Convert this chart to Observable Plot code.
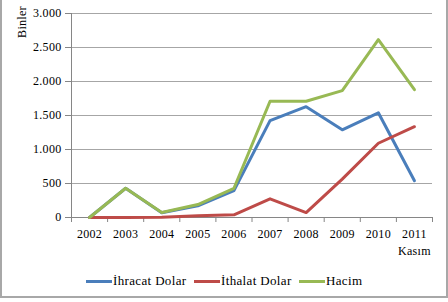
<!DOCTYPE html>
<html>
<head>
<meta charset="utf-8">
<script src="https://cdn.jsdelivr.net/npm/d3@7"></script>
<script src="https://cdn.jsdelivr.net/npm/@observablehq/plot@0.6"></script>
<style>
  html, body { margin: 0; padding: 0; background: #fff; }
  #wrap { position: relative; width: 448px; height: 302px; }
  #wrap, #wrap * { font-family: "Liberation Serif", "Times New Roman", serif !important; }
  #frame { position: absolute; left: 0; top: -2px; width: 444px; height: 298px; border: 2px solid #a8a8a8; border-top: none; box-sizing: content-box; }
  #chart { position: absolute; left: 0; top: 0; }
  #ylabel { position: absolute; left: 22px; top: 22px; transform: translate(-50%, -50%) rotate(-90deg); font-size: 12px; letter-spacing: 0.3px; white-space: nowrap; color: #000; }
  #legend { position: absolute; left: 0; top: 273px; width: 448px; height: 16px; font-size: 13px; letter-spacing: 0.35px; color: #000; }
  .item { position: absolute; top: 0; display: flex; align-items: center; gap: 1px; height: 16px; white-space: nowrap; }
  .item:nth-child(1) { left: 86px; }
  .item:nth-child(2) { left: 194px; }
  .item:nth-child(3) { left: 299px; }
  .sw { width: 26px; height: 3px; flex: none; }
  #chart svg text { letter-spacing: 0.3px; }
</style>
</head>
<body>
<div id="wrap">
  <div id="frame"></div>
  <div id="chart"></div>
  <div id="ylabel">Binler</div>
  <div id="legend"></div>
</div>
<script>
const years = ["2002", "2003", "2004", "2005", "2006", "2007", "2008", "2009", "2010", "2011"];
const lastLabelNote = "Kasım";
const seriesNames = ["İhracat Dolar", "İthalat Dolar", "Hacim"];
const seriesColors = ["#4a7ebb", "#be4b48", "#98b954"];
const ihracat = [0, 430, 70, 172, 395, 1425, 1630, 1290, 1540, 540];
const ithalat = [0, 0, 3, 25, 40, 275, 73, 565, 1092, 1335];
const hacim = [0, 430, 73, 190, 430, 1710, 1710, 1865, 2615, 1880];
const yTicks = [0, 500, 1000, 1500, 2000, 2500, 3000];

const valuesBySeries = [ihracat, ithalat, hacim];
const data = [];
seriesNames.forEach((s, k) => valuesBySeries[k].forEach((v, i) => data.push({series: s, i, value: v})));

const idx = d3.range(years.length);
const boundaries = d3.range(years.length + 1).map(i => i - 0.5);
const fmt = d3.formatLocale({decimal: ",", thousands: ".", grouping: [3], currency: ["", ""]}).format(",");

const chart = Plot.plot({
  width: 448,
  height: 302,
  marginLeft: 71,
  marginRight: 16,
  marginTop: 13,
  marginBottom: 85,
  style: {fontFamily: "'Liberation Serif', 'Times New Roman', serif", fontSize: "12px", color: "#000", background: "transparent"},
  x: {domain: [boundaries[0], boundaries[boundaries.length - 1]]},
  y: {domain: [yTicks[0], yTicks[yTicks.length - 1]]},
  color: {domain: seriesNames, range: seriesColors},
  marks: [
    Plot.gridY(yTicks, {stroke: "#a6a6a6", strokeOpacity: 1}),
    Plot.ruleX([boundaries[0]], {stroke: "#868686"}),
    Plot.ruleY([yTicks[0]], {stroke: "#868686"}),
    Plot.axisY(yTicks, {tickSize: 6, tickPadding: 4, tickFormat: fmt, label: null, stroke: "#868686", fill: "#000"}),
    Plot.axisX(boundaries, {tickSize: 5, tickFormat: () => "", label: null, stroke: "#868686"}),
    Plot.axisX(idx, {tickSize: 0, tickPadding: 9, lineHeight: 1.4, fill: "#000",
      tickFormat: i => i === years.length - 1 ? years[i] + "\n" + lastLabelNote : years[i], label: null}),
    Plot.line(data, {x: "i", y: "value", z: "series", stroke: "series", strokeWidth: 3})
  ]
});
document.getElementById("chart").appendChild(chart);

const legend = document.getElementById("legend");
seriesNames.forEach((s, k) => {
  const item = document.createElement("div");
  item.className = "item";
  const sw = document.createElement("span");
  sw.className = "sw";
  sw.style.background = seriesColors[k];
  const t = document.createElement("span");
  t.textContent = s;
  item.appendChild(sw);
  item.appendChild(t);
  legend.appendChild(item);
});
</script>
</body>
</html>
